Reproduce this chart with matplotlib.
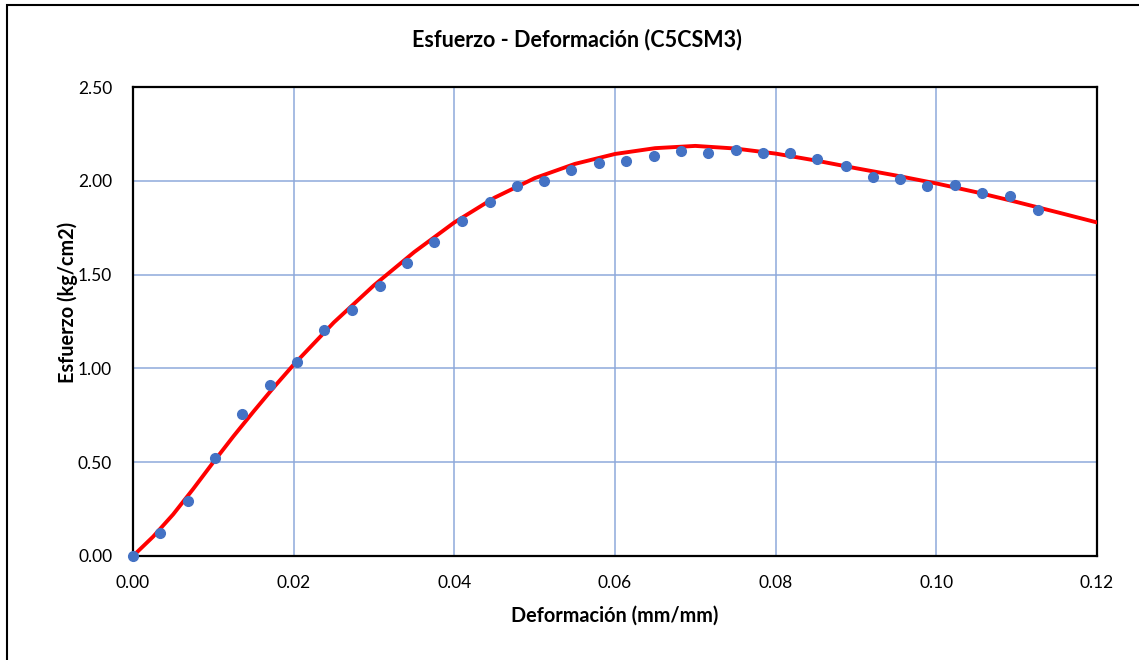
import numpy as np
import matplotlib.pyplot as plt
from matplotlib.patches import Rectangle

# datos
deformacion = [0.0, 0.0034, 0.0068, 0.0102, 0.0136, 0.0170, 0.0204, 0.0238, 0.0272,
               0.0307, 0.0341, 0.0375, 0.0409, 0.0444, 0.0478, 0.0512, 0.0545, 0.0580,
               0.0614, 0.0648, 0.0682, 0.0716, 0.0750, 0.0784, 0.0818, 0.0852, 0.0887,
               0.0921, 0.0955, 0.0989, 0.1023, 0.1057, 0.1092, 0.1126]
esfuerzo = [0.00, 0.124, 0.295, 0.521, 0.759, 0.912, 1.034, 1.205, 1.311,
            1.439, 1.564, 1.676, 1.788, 1.889, 1.972, 1.999, 2.058, 2.093,
            2.107, 2.134, 2.160, 2.146, 2.164, 2.150, 2.146, 2.115, 2.081,
            2.022, 2.008, 1.972, 1.978, 1.937, 1.919, 1.844]

# curva de ajuste (linea roja)
curva_x = [0.0000, 0.0025, 0.0050, 0.0075, 0.0100, 0.0125, 0.0150, 0.0175, 0.0200,
           0.0250, 0.0300, 0.0350, 0.0400, 0.0450, 0.0500, 0.0550, 0.0600, 0.0650,
           0.0700, 0.0750, 0.0800, 0.0850, 0.0900, 0.0950, 0.1000, 0.1050, 0.1100,
           0.1150, 0.1200]
curva_y = [0.000, 0.103, 0.222, 0.358, 0.500, 0.638, 0.770, 0.898, 1.020,
           1.245, 1.443, 1.620, 1.778, 1.910, 2.014, 2.090, 2.143, 2.174,
           2.186, 2.172, 2.145, 2.108, 2.067, 2.028, 1.986, 1.939, 1.887,
           1.833, 1.778]

xticks = [0.00, 0.02, 0.04, 0.06, 0.08, 0.10, 0.12]
yticks = [0.00, 0.50, 1.00, 1.50, 2.00, 2.50]

plt.rcParams['font.family'] = ['Lato', 'DejaVu Sans']

fig = plt.figure(figsize=(11.39, 6.6), dpi=100)
ax = fig.add_axes([133/1139, 104/660, 964/1139, 469/660])

ax.plot(curva_x, curva_y, color='#FF0000', linewidth=2.8, zorder=3,
        solid_joinstyle='round', solid_capstyle='round')
ax.plot(deformacion, esfuerzo, 'o', color='#4472C4', markersize=7, zorder=4, clip_on=False)

ax.set_xlim(0, 0.12)
ax.set_ylim(0, 2.5)
ax.set_xticks(xticks)
ax.set_yticks(yticks)
ax.set_xticklabels([f'{v:.2f}' for v in xticks], fontsize=12.5)
ax.set_yticklabels([f'{v:.2f}' for v in yticks], fontsize=12.5)
ax.tick_params(length=0)
ax.tick_params(axis='y', pad=15)
ax.tick_params(axis='x', pad=14)
ax.grid(True, color='#8EA9DB', linewidth=1.1)
ax.set_axisbelow(True)
for s in ax.spines.values():
    s.set_linewidth(1.6)
    s.set_color('black')

ax.set_xlabel('Deformación (mm/mm)', fontsize=14.3, fontweight='bold')
ax.set_ylabel('Esfuerzo (kg/cm2)', fontsize=14.3, fontweight='bold')
ax.xaxis.set_label_coords(0.5, -0.128)
ax.yaxis.set_label_coords(-0.068, 0.54)
ax.yaxis.label.set_verticalalignment('center')
ax.xaxis.label.set_verticalalignment('center')

fig.text(577/1139, 1 - 40/660, 'Esfuerzo - Deformación (C5CSM3)', fontsize=15.5,
         fontweight='bold', ha='center', va='center')

# marco del grafico
fig.patches.append(Rectangle((7/1139, -0.1), 1.2, 1.1 - 5/660, transform=fig.transFigure,
                             fill=False, edgecolor='black', linewidth=1.5))

fig.savefig('out.png', dpi=100)
